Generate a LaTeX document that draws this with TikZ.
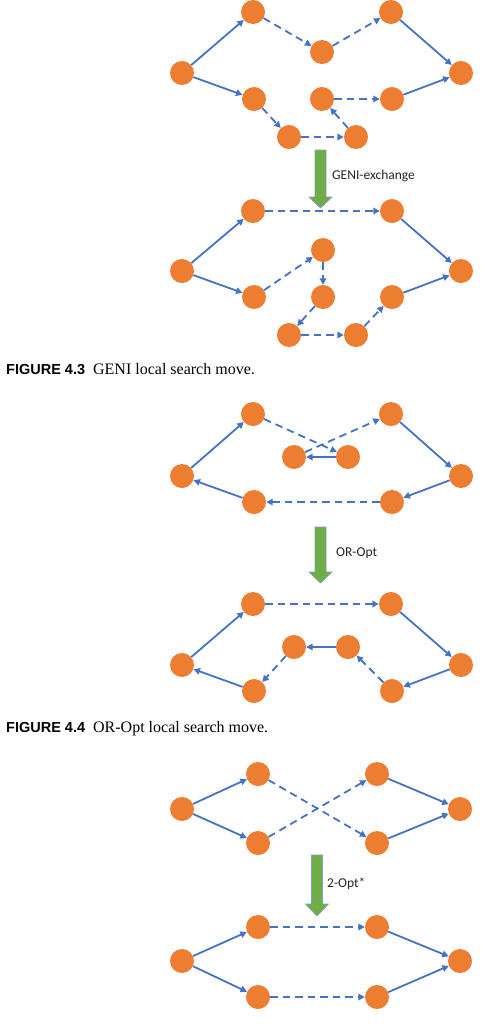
\documentclass[tikz,border=0pt]{standalone}
\usepackage{fontspec}
\setmainfont{Liberation Serif}
\newfontfamily\lblfont{Carlito}
\newfontfamily\capfont{Liberation Sans}
\usetikzlibrary{arrows.meta}
\definecolor{orng}{HTML}{ED7D31}
\definecolor{lblue}{HTML}{4472C4}
\definecolor{grn}{HTML}{70AD47}
\definecolor{grnedge}{HTML}{7E9FBF}
\tikzset{
  v/.style={circle, fill=orng, minimum size=24pt, inner sep=0pt},
  sol/.style={draw=lblue, line width=1.8pt, -{Triangle[length=6.5pt,width=6.5pt]}},
  dsh/.style={sol, dash pattern=on 7.5pt off 5pt},
  lbl/.style={font=\lblfont\fontsize{13.5}{15}\selectfont, text=black!85, anchor=west, inner sep=0pt},
  figcaption/.style={anchor=west, inner sep=0pt, font=\fontsize{16}{18}\selectfont},
  garrow/.style={fill=grn, draw=grnedge, line width=0.6pt, line join=miter}
}
\newcommand{\greenarrow}[4]{% x-center, top, headstart, tip
  \path[garrow] (#1-5.5,#2) -- (#1+5.5,#2) -- (#1+5.5,#3) -- (#1+11.5,#3) -- (#1,#4) -- (#1-11.5,#3) -- (#1-5.5,#3) -- cycle;}
\newcommand{\figlabel}[1]{{\capfont\bfseries\fontsize{14.5}{17}\selectfont #1}\hspace{8pt}}
\begin{document}
\begin{tikzpicture}[x=1pt,y=-1pt]
\useasboundingbox (0,0) rectangle (482,1029);

% ===== Figure 4.3 top =====
\node[v] (a1) at (182,73) {};
\node[v] (b1) at (253,12) {};
\node[v] (c1) at (322,52) {};
\node[v] (d1) at (391,12) {};
\node[v] (e1) at (461,73) {};
\node[v] (f1) at (254,99) {};
\node[v] (g1) at (289,137) {};
\node[v] (h1) at (356,137) {};
\node[v] (i1) at (322,99) {};
\node[v] (j1) at (392,99) {};
\draw[sol] (a1) -- (b1);
\draw[dsh] (b1) -- (c1);
\draw[dsh] (c1) -- (d1);
\draw[sol] (d1) -- (e1);
\draw[sol] (a1) -- (f1);
\draw[dsh] (f1) -- (g1);
\draw[dsh] (g1) -- (h1);
\draw[dsh] (h1) -- (i1);
\draw[dsh] (i1) -- (j1);
\draw[sol] (j1) -- (e1);

\greenarrow{320.5}{150}{197}{208}
\node[lbl] (t1) at (332,176) {GENI-exchange};

% ===== Figure 4.3 bottom =====
\node[v] (a2) at (182,271) {};
\node[v] (b2) at (253,211) {};
\node[v] (d2) at (392,211) {};
\node[v] (e2) at (461,271) {};
\node[v] (f2) at (254,297) {};
\node[v] (k2) at (323,250) {};
\node[v] (l2) at (323,297) {};
\node[v] (g2) at (289,335) {};
\node[v] (h2) at (356,335) {};
\node[v] (j2) at (392,297) {};
\draw[sol] (a2) -- (b2);
\draw[dsh] (b2) -- (d2);
\draw[sol] (d2) -- (e2);
\draw[sol] (a2) -- (f2);
\draw[dsh] (f2) -- (k2);
\draw[dsh] (k2) -- (l2);
\draw[dsh] (l2) -- (g2);
\draw[dsh] (g2) -- (h2);
\draw[dsh] (h2) -- (j2);
\draw[sol] (j2) -- (e2);

\node[figcaption] (c43) at (6,369) {\figlabel{FIGURE 4.3}GENI local search move.};

% ===== Figure 4.4 top =====
\node[v] (a3) at (182,476) {};
\node[v] (b3) at (253,414) {};
\node[v] (d3) at (391,414) {};
\node[v] (e3) at (461,476) {};
\node[v] (m3) at (294,457) {};
\node[v] (n3) at (348,457) {};
\node[v] (f3) at (254,502) {};
\node[v] (j3) at (392,502) {};
\draw[sol] (a3) -- (b3);
\draw[dsh] (b3) -- (n3);
\draw[sol] (n3) -- (m3);
\draw[dsh] (m3) -- (d3);
\draw[sol] (d3) -- (e3);
\draw[sol] (e3) -- (j3);
\draw[dsh] (j3) -- (f3);
\draw[sol] (f3) -- (a3);

\greenarrow{320.5}{527}{572}{583}
\node[lbl] (t2) at (336,553) {OR-Opt};

% ===== Figure 4.4 bottom =====
\node[v] (a4) at (182,665) {};
\node[v] (b4) at (253,604) {};
\node[v] (d4) at (391,604) {};
\node[v] (e4) at (461,665) {};
\node[v] (m4) at (294,647) {};
\node[v] (n4) at (348,647) {};
\node[v] (f4) at (254,691) {};
\node[v] (j4) at (392,691) {};
\draw[sol] (a4) -- (b4);
\draw[dsh] (b4) -- (d4);
\draw[sol] (d4) -- (e4);
\draw[sol] (e4) -- (j4);
\draw[dsh] (j4) -- (n4);
\draw[sol] (n4) -- (m4);
\draw[dsh] (m4) -- (f4);
\draw[sol] (f4) -- (a4);

\node[figcaption] (c44) at (6,729) {\figlabel{FIGURE 4.4}OR-Opt local search move.};

% ===== 2-Opt* top =====
\node[v] (p5) at (182,809) {};
\node[v] (q5) at (258,774) {};
\node[v] (r5) at (258,843) {};
\node[v] (s5) at (377,774) {};
\node[v] (t5) at (377,843) {};
\node[v] (u5) at (460,809) {};
\draw[sol] (p5) -- (q5);
\draw[sol] (p5) -- (r5);
\draw[dsh] (q5) -- (t5);
\draw[dsh] (r5) -- (s5);
\draw[sol] (s5) -- (u5);
\draw[sol] (t5) -- (u5);

\greenarrow{317}{855}{904}{916}
\node[lbl] (t3) at (327,884) {2-Opt*};

% ===== 2-Opt* bottom =====
\node[v] (p6) at (182,961) {};
\node[v] (q6) at (258,927) {};
\node[v] (r6) at (258,997) {};
\node[v] (s6) at (377,927) {};
\node[v] (t6) at (377,997) {};
\node[v] (u6) at (460,961) {};
\draw[sol] (p6) -- (q6);
\draw[sol] (p6) -- (r6);
\draw[dsh] (q6) -- (s6);
\draw[dsh] (r6) -- (t6);
\draw[sol] (s6) -- (u6);
\draw[sol] (t6) -- (u6);
\end{tikzpicture}
\end{document}
